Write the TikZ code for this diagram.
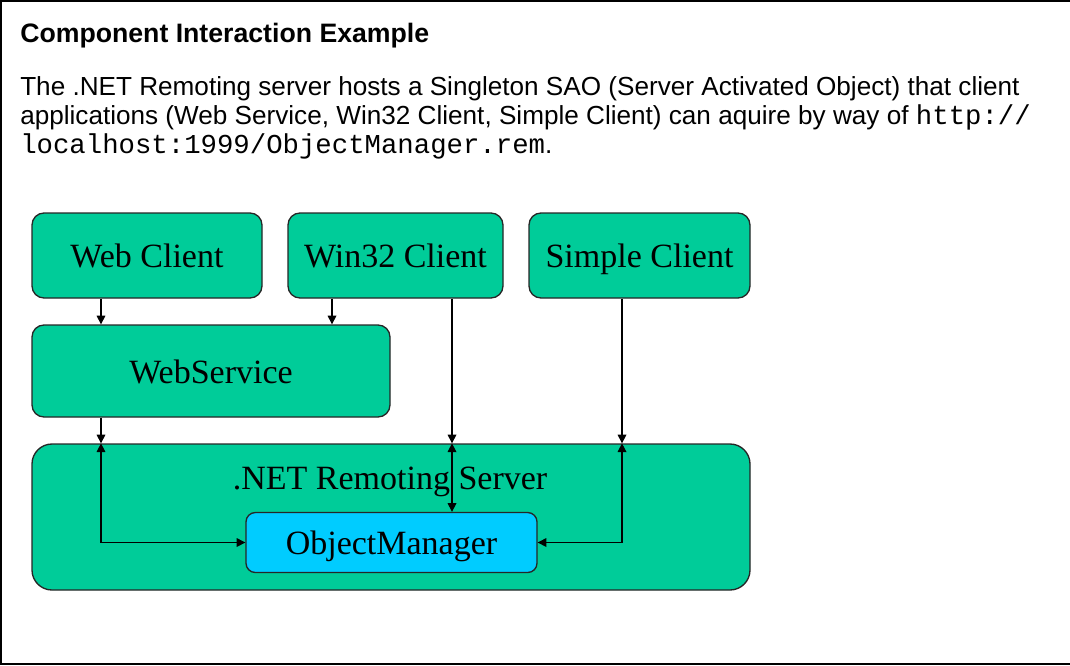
\documentclass[tikz,border=0pt]{standalone}
\usepackage{fontspec}
\setmainfont{Liberation Serif}
\newfontfamily\notesans{Liberation Sans}
\newfontfamily\notemono{Liberation Mono}
\usetikzlibrary{arrows.meta,positioning}

\definecolor{boxgreen}{RGB}{0,204,153}
\definecolor{boxcyan}{RGB}{0,204,255}

\tikzset{
  comp/.style={draw=black!85,line width=1pt,fill=boxgreen,rounded corners=9pt,
    inner sep=0pt,text height=23pt,text depth=5pt,font=\fontsize{25.5}{28}\selectfont},
  arr/.style={line width=0.9pt,-{Triangle[length=6.5pt,width=6.5pt]}},
  twoarr/.style={line width=0.9pt,{Triangle[length=6.5pt,width=6.5pt]}-{Triangle[length=6.5pt,width=6.5pt]}}
}

\begin{document}
\begin{tikzpicture}[x=0.75pt,y=-0.75pt]
  \useasboundingbox (0,0) rectangle (1070,665);
  % page frame
  \draw[line width=1.5pt] (1070,1) -- (1,1) -- (1,664) -- (1070,664);

  % text above the diagram
  \node[anchor=base west,inner sep=0pt,font=\notesans\bfseries\fontsize{20}{24}\selectfont] (title) at (20,42)
    {Component Interaction Example};
  \node[anchor=base west,inner sep=0pt,font=\notesans\fontsize{19.6}{22}\selectfont] (lineA) at (20,95)
    {The .NET Remoting server hosts a Singleton SAO (Server Activated Object) that client};
  \node[anchor=base west,inner sep=0pt,font=\notesans\fontsize{19.6}{22}\selectfont] (lineB) at (20,124)
    {applications (Web Service, Win32 Client, Simple Client) can aquire by way of {\notemono\fontsize{20.5}{22}\selectfont http://}};
  \node[anchor=base west,inner sep=0pt,font=\notesans\fontsize{19.6}{22}\selectfont] (lineC) at (20,153)
    {{\notemono\fontsize{20.5}{22}\selectfont localhost:1999/ObjectManager.rem}.};

  % components
  \node[comp,minimum width=172.5pt,minimum height=63.75pt] (webclient) at (147,255.5) {Web Client};
  \node[comp,minimum width=161.25pt,minimum height=63.75pt] (winclient) at (395.5,255.5) {Win32 Client};
  \node[comp,minimum width=165.75pt,minimum height=63.75pt] (simpleclient) at (639.5,255.5) {Simple Client};
  \node[comp,minimum width=268.5pt,minimum height=69pt] (webservice) at (211,371) {WebService};
  \node[comp,rounded corners=15pt,minimum width=538.5pt,minimum height=109.5pt] (server) at (391,517) {};
  \node[anchor=base,inner sep=0pt,font=\fontsize{25.5}{28}\selectfont] (serverlabel) at (390,489) {.NET Remoting Server};
  \node[comp,fill=boxcyan,rounded corners=7pt,minimum width=218.25pt,minimum height=45pt] (objmgr) at (391.5,542.5) {ObjectManager};

  % connector columns
  \coordinate (colA) at (101,0);
  \coordinate (colB) at (332,0);
  \coordinate (colC) at (452,0);
  \coordinate (colD) at (622,0);

  \draw[arr] (colA |- webclient.south) -- (colA |- webservice.north);
  \draw[arr] (colB |- winclient.south) -- (colB |- webservice.north);
  \draw[arr] (colA |- webservice.south) -- (colA |- server.north);
  \draw[arr] (colC |- winclient.south) -- (colC |- server.north);
  \draw[arr] (colD |- simpleclient.south) -- (colD |- server.north);

  % inside the server
  \draw[twoarr] (colA |- server.north) |- (objmgr.west);
  \draw[twoarr] (colC |- server.north) -- (colC |- objmgr.north);
  \draw[twoarr] (colD |- server.north) |- (objmgr.east);
\end{tikzpicture}
\end{document}
